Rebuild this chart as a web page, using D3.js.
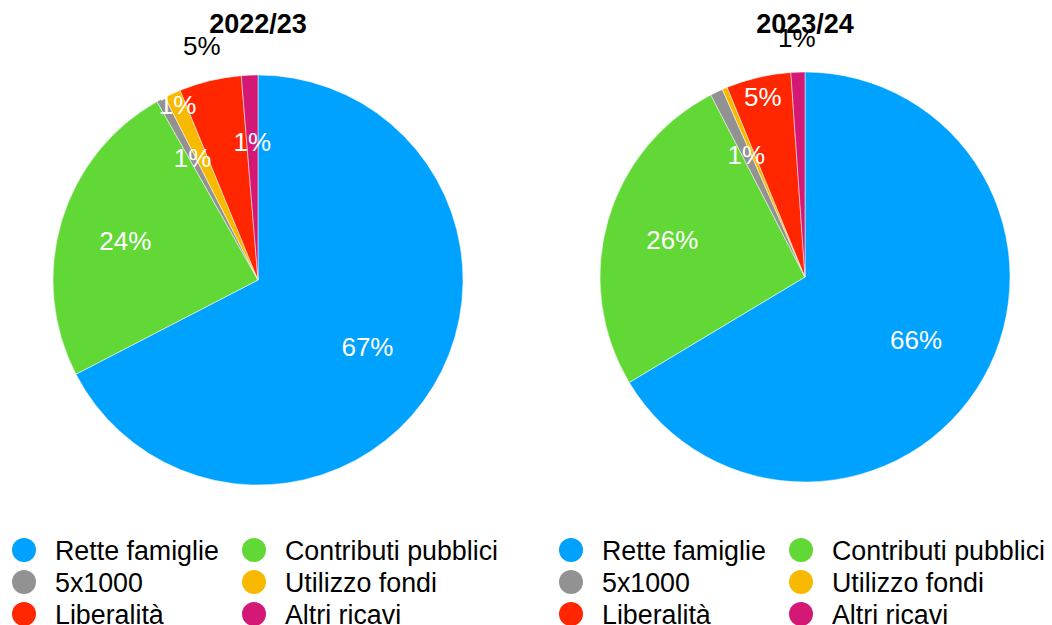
<!DOCTYPE html>
<html>
<head>
<meta charset="utf-8">
<script src="https://cdn.jsdelivr.net/npm/d3@7"></script>
<style>
    body { margin: 0; background: #fff; }
    svg { font-family: "Liberation Sans", Arial, Helvetica, sans-serif; }
</style>
</head>
<body>
<svg id="chart" width="1052" height="625"></svg>
<script>
(function () {
    'use strict';

    // categories, in the clockwise order used by the pies
    var categories = ["Rette famiglie", "Contributi pubblici", "5x1000", "Utilizzo fondi", "Liberalità", "Altri ricavi"];
    var colors = ["#00A2FF", "#61D836", "#929292", "#F8BA00", "#FF2600", "#D41876"];

    var years = ["2022/23", "2023/24"];
    // share of revenue (%)
    var values2022 = [67.4, 24.4, 0.7, 1.3, 4.9, 1.3];
    var values2023 = [66.4, 26.0, 1.0, 0.4, 5.1, 1.1];

    // where each percentage label sits, as fraction of the radius
    var labelPos2022 = [0.625, 0.675, 0.675, 0.94, 1.175, 0.675];
    var labelPos2023 = [0.623, 0.673, 0.663, 0.9, 0.905, 1.17];

    var svg = d3.select("#chart");
    var radius = 205;

    var pies = [
        { year: years[0], values: values2022, labelPos: labelPos2022, cx: 258, cy: 280 },
        { year: years[1], values: values2023, labelPos: labelPos2023, cx: 805, cy: 277 }
    ];

    var pie = d3.pie().sort(null).value(function (d) { return d; });
    var arc = d3.arc().innerRadius(0).outerRadius(radius);

    pies.forEach(function (p) {
        var g = svg.append("g")
            .attr("transform", "translate(" + p.cx + "," + p.cy + ")");

        var arcs = pie(p.values);

        g.selectAll("path")
            .data(arcs)
            .enter()
            .append("path")
            .attr("d", arc)
            .style("fill", function (d, i) { return colors[i]; })
            .style("stroke", "#fff")
            .style("stroke-width", 0.5);

        g.selectAll("text.pct")
            .data(arcs)
            .enter()
            .append("text")
            .attr("class", "pct")
            .attr("transform", function (d, i) {
                var r = radius * p.labelPos[i];
                var a = (d.startAngle + d.endAngle) / 2;
                return "translate(" + (Math.sin(a) * r) + "," + (-Math.cos(a) * r) + ")";
            })
            .attr("dy", "0.36em")
            .attr("text-anchor", "middle")
            .style("font-size", "26px")
            .style("fill", function (d, i) { return p.labelPos[i] < 1 ? "#fff" : "#000"; })
            .text(function (d) {
                var v = Math.round(d.data);
                return v > 0 ? v + "%" : "";
            });

        svg.append("text")
            .attr("x", p.cx)
            .attr("y", 33)
            .attr("text-anchor", "middle")
            .style("font-size", "27px")
            .style("font-weight", "bold")
            .text(p.year);

        // legend, 2 columns x 3 rows
        var legend = svg.append("g")
            .attr("transform", "translate(" + (p.cx - 234) + ",550)");

        var item = legend.selectAll("g")
            .data(categories)
            .enter()
            .append("g")
            .attr("transform", function (d, i) {
                return "translate(" + ((i % 2) * 230) + "," + (Math.floor(i / 2) * 32) + ")";
            });

        item.append("circle")
            .attr("r", 12)
            .style("fill", function (d, i) { return colors[i]; });

        item.append("text")
            .attr("x", 31)
            .attr("dy", "0.36em")
            .style("font-size", "26.8px")
            .text(function (d) { return d; });
    });

})();
</script>
</body>
</html>
